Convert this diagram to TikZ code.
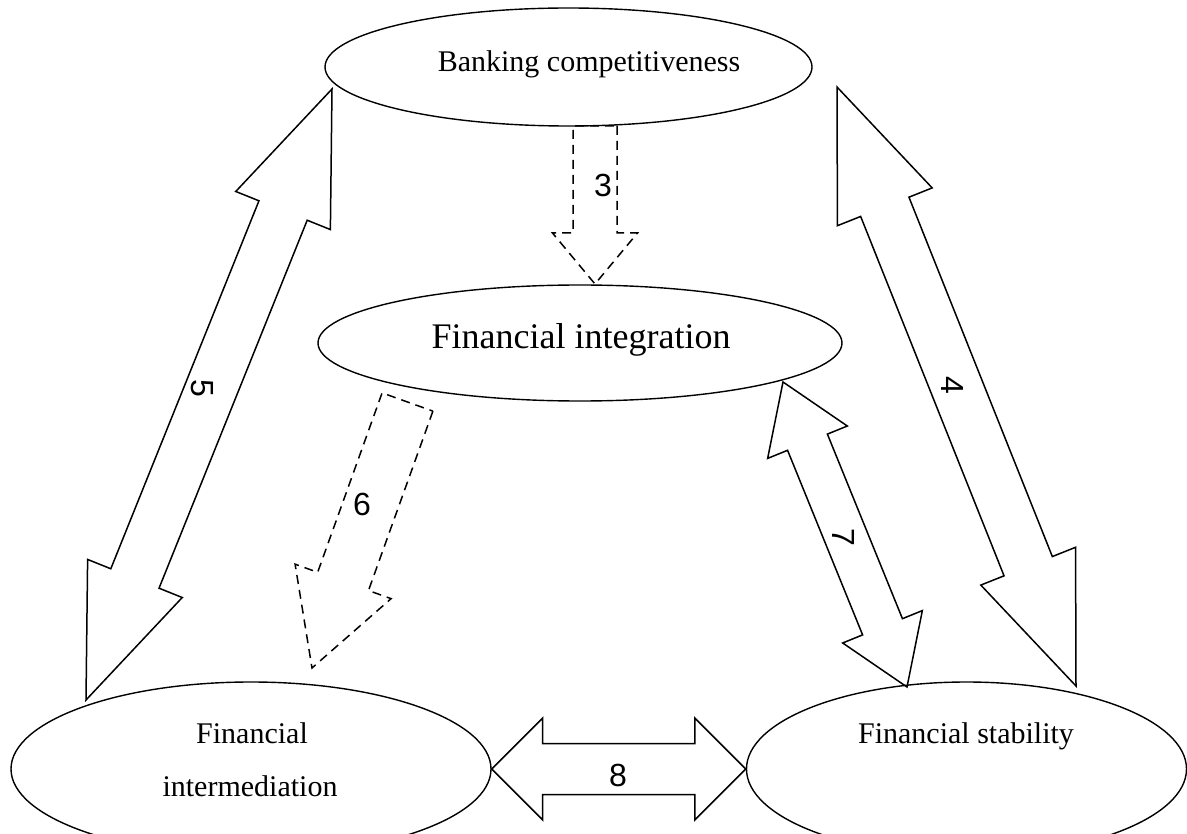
\documentclass[tikz,border=0pt]{standalone}
\usepackage{fontspec}
\setmainfont{Liberation Serif}
\newfontfamily\numfont{Liberation Sans}
\usetikzlibrary{calc,shapes.geometric}

\tikzset{
  bubble/.style={ellipse,draw,line width=1.4pt,inner sep=0pt},
  blockline/.style={draw,line width=1.5pt,line join=miter},
  dashblock/.style={dash pattern=on 9pt off 6pt},
  lbl/.style={font=\fontsize{30}{36}\selectfont,inner sep=0pt,anchor=base},
  num/.style={font=\numfont\fontsize{32}{32}\selectfont,inner sep=0pt}
}

% block arrow with one head: [style]{tail}{tip}{shaft}{head}{head length}
\newcommand{\blockone}[6][]{%
  \coordinate (bn) at ($(#3)!#6!(#2)$);
  \draw[blockline,#1] ($(#2)!#4!90:(#3)$) -- ($(bn)!#4!90:(#3)$)
    -- ($(bn)!#5!90:(#3)$) -- (#3) -- ($(bn)!#5!-90:(#3)$)
    -- ($(bn)!#4!-90:(#3)$) -- ($(#2)!#4!-90:(#3)$) -- cycle;
}
% block arrow with two heads
\newcommand{\blocktwo}[6][]{%
  \coordinate (ba) at ($(#2)!#6!(#3)$);
  \coordinate (bb) at ($(#3)!#6!(#2)$);
  \draw[blockline,#1] (#2) -- ($(ba)!#5!90:(#3)$) -- ($(ba)!#4!90:(#3)$)
    -- ($(bb)!#4!90:(#3)$) -- ($(bb)!#5!90:(#3)$) -- (#3)
    -- ($(bb)!#5!-90:(#3)$) -- ($(bb)!#4!-90:(#3)$)
    -- ($(ba)!#4!-90:(#3)$) -- ($(ba)!#5!-90:(#3)$) -- cycle;
}

\begin{document}
\begin{tikzpicture}[x=1pt,y=-1pt]
  \useasboundingbox (0,0) rectangle (1187,834);

  % the four bubbles
  \node[bubble,minimum width=487pt,minimum height=118pt] (bank) at (568.5,67) {};
  \node[bubble,minimum width=524pt,minimum height=116pt] (integ) at (580,343) {};
  \node[bubble,minimum width=480pt,minimum height=174pt] (inter) at (251,769) {};
  \node[bubble,minimum width=440pt,minimum height=174pt] (stab) at (966.5,769) {};

  \node[lbl] (bankt) at (589,72) {Banking competitiveness};
  \node[lbl,font=\fontsize{36}{40}\selectfont] (integt) at (581,349) {Financial integration};
  \node[lbl] (intert) at (252,743) {Financial};
  \node[lbl] (intert2) at (250,796) {intermediation};
  \node[lbl] (stabt) at (966,743) {Financial stability};

  % arrow ends
  \coordinate (a3s) at (595,126);   \coordinate (a3e) at (595,284);
  \coordinate (a5s) at (86,700);    \coordinate (a5e) at (332,89);
  \coordinate (a4s) at (837,87);    \coordinate (a4e) at (1076,686);
  \coordinate (a7s) at (783,382);   \coordinate (a7e) at (907,687);
  \coordinate (a6s) at (407.5,402); \coordinate (a6e) at (312,668);

  \blockone[dashblock]{a3s}{a3e}{22pt}{42.5pt}{51pt}
  \blockone[dashblock]{a6s}{a6e}{27pt}{51pt}{92pt}
  \blocktwo{a5s}{a5e}{26pt}{51pt}{131pt}
  \blocktwo{a4s}{a4e}{26pt}{51pt}{129pt}
  \blocktwo{a7s}{a7e}{21.5pt}{43pt}{65pt}
  \blocktwo{inter.east}{stab.west}{25.5pt}{51pt}{51pt}

  \node[num] (n3) at (603,185) {3};
  \node[num,rotate=-90] (n5) at (202,388) {5};
  \node[num,rotate=-90] (n4) at (952,385) {4};
  \node[num] (n6) at (362,504) {6};
  \node[num,rotate=-90] (n7) at (843,537) {7};
  \node[num] (n8) at (618,775) {8};
\end{tikzpicture}
\end{document}
